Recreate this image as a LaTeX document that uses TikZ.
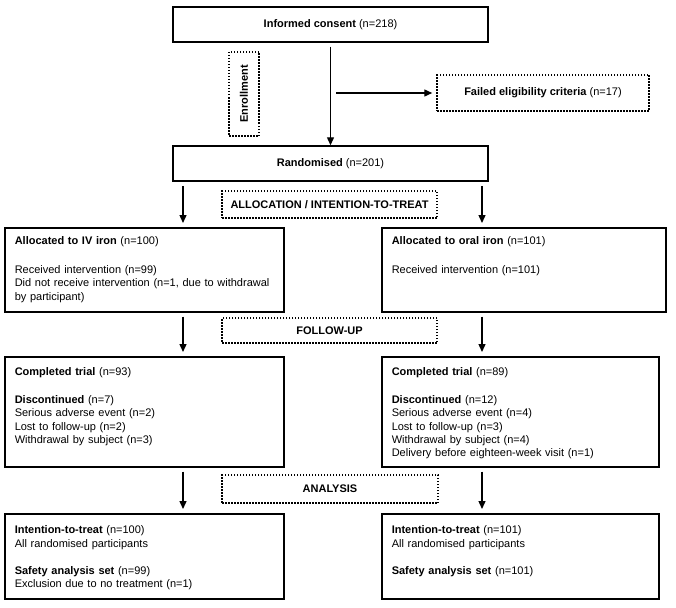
\documentclass[tikz,border=0pt]{standalone}
\usepackage{fontspec}
\setmainfont{Liberation Sans}
\usetikzlibrary{arrows.meta}
\tikzstyle{arrow} = [line width=1.4pt,-{Triangle[length=8pt,width=7pt]},shorten <=4pt]

\begin{document}
\begin{tikzpicture}
        [
            x=1pt,y=-1pt,
            font=\fontsize{11}{13.3}\selectfont,
            mainbox/.style={rectangle,draw=black,line width=1.5pt,inner sep=0pt},
            stagebox/.style 2 args={rectangle,draw=black,line width=1.5pt,anchor=north west,
                inner xsep=10pt,inner ysep=0pt,align=left,text height=#1,text depth=#2},
            phase/.style={rectangle,draw=black,line width=1.5pt,dash pattern=on 1.5pt off 1.5pt,inner sep=0pt},
        ]
    \useasboundingbox (0,0) rectangle (676,607);

    % enrollment
    \node[mainbox,minimum width=315,minimum height=35] (consent) at (330.5,24.5) {\textbf{Informed consent} (n=218)};
    \node[phase,minimum width=84,minimum height=30,rotate=90] (enroll) at (244,94) {\textbf{Enrollment}};
    \node[phase,minimum width=212,minimum height=36] (failed) at (543,93) {\textbf{Failed eligibility criteria} (n=17)};
    \node[mainbox,minimum width=315,minimum height=35] (random) at (330.5,163.5) {\textbf{Randomised} (n=201)};
    \coordinate (split) at (332,93);
    \coordinate (lx) at (183,0);
    \coordinate (rx) at (482,0);

    % phase labels
    \node[phase,minimum width=215,minimum height=27] (alloc) at (329.5,204.5) {\textbf{ALLOCATION / INTENTION-TO-TREAT}};
    \node[phase,minimum width=215,minimum height=25] (follow) at (329.5,330.5) {\textbf{FOLLOW-UP}};
    \node[phase,minimum width=216,minimum height=28] (analysis) at (330,489) {\textbf{ANALYSIS}};

    % allocation
    \node[stagebox={17pt}{67pt},text width=259] (ivalloc) at (4,227) {\textbf{Allocated to IV iron} (n=100)\\[15.5pt]
        Received intervention (n=99)\\
        Did not receive intervention (n=1, due to withdrawal\\
        by participant)};
    \node[stagebox={17pt}{67pt},text width=264] (oralalloc) at (381,227) {\textbf{Allocated to oral iron} (n=101)\\[15.5pt]
        Received intervention (n=101)};

    % follow-up
    \node[stagebox={19pt}{91pt},text width=259] (ivcomp) at (4,356) {\textbf{Completed trial} (n=93)\\[14.5pt]
        \textbf{Discontinued} (n=7)\\
        Serious adverse event (n=2)\\
        Lost to follow-up (n=2)\\
        Withdrawal by subject (n=3)};
    \node[stagebox={19pt}{91pt},text width=257] (oralcomp) at (381,356) {\textbf{Completed trial} (n=89)\\[14.5pt]
        \textbf{Discontinued} (n=12)\\
        Serious adverse event (n=4)\\
        Lost to follow-up (n=3)\\
        Withdrawal by subject (n=4)\\
        Delivery before eighteen-week visit (n=1)};

    % analysis
    \node[stagebox={20pt}{65pt},text width=259] (ivitt) at (4,513) {\textbf{Intention-to-treat} (n=100)\\
        All randomised participants\\[14pt]
        \textbf{Safety analysis set} (n=99)\\
        Exclusion due to no treatment (n=1)};
    \node[stagebox={20pt}{65pt},text width=257] (oralitt) at (381,513) {\textbf{Intention-to-treat} (n=101)\\
        All randomised participants\\[14pt]
        \textbf{Safety analysis set} (n=101)};

    % arrows
    \draw[arrow] (consent.south) -- (random.north);
    \draw[arrow,shorten >=4pt] (split) -- (failed.west);
    \draw[arrow,shorten >=4pt] (lx |- random.south) -- (lx |- ivalloc.north);
    \draw[arrow,shorten >=4pt] (rx |- random.south) -- (rx |- oralalloc.north);
    \draw[arrow,shorten >=4pt] (lx |- ivalloc.south) -- (lx |- ivcomp.north);
    \draw[arrow,shorten >=4pt] (rx |- oralalloc.south) -- (rx |- oralcomp.north);
    \draw[arrow,shorten >=4pt] (lx |- ivcomp.south) -- (lx |- ivitt.north);
    \draw[arrow,shorten >=4pt] (rx |- oralcomp.south) -- (rx |- oralitt.north);
\end{tikzpicture}
\end{document}
